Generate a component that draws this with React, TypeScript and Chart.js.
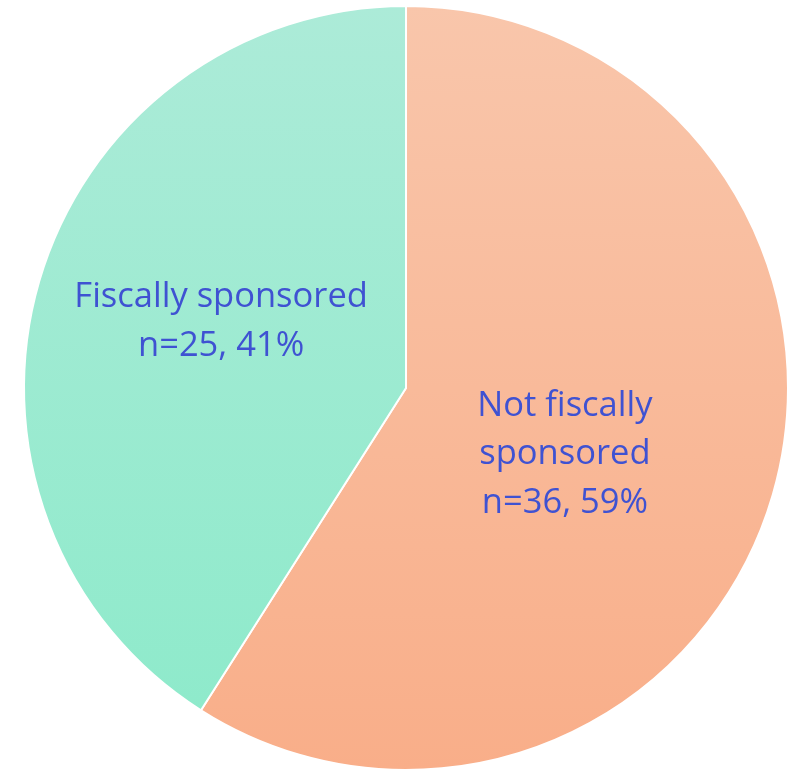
import React, { useEffect, useRef } from "react";
import { Chart, registerables } from "chart.js";

Chart.register(...registerables);

const categories = ["Not fiscally sponsored", "Fiscally sponsored"];
const counts = [36, 25];
const percents = [59, 41];
const labelLines = [
  ["Not fiscally", "sponsored", "n=36, 59%"],
  ["Fiscally sponsored", "n=25, 41%"],
];
const gradientTop = ["#F9C6AB", "#ACEBD8"];
const gradientBottom = ["#F9AE89", "#8CEACA"];

const labelPlugin = {
  id: "sliceLabels",
  afterDatasetsDraw(chart: any) {
    const meta = chart.getDatasetMeta(0);
    const ctx = chart.ctx;
    // label anchors as fractions of the radius, relative to the pie centre
    const anchors = [
      [0.416, 0.199],
      [-0.484, -0.148],
    ];
    ctx.save();
    ctx.fillStyle = "#3F52D2";
    ctx.font = "34.5px 'Open Sans'";
    ctx.textAlign = "center";
    ctx.textBaseline = "alphabetic";
    const lh = 48.5;
    meta.data.forEach((arc: any, i: number) => {
      const { x, y, outerRadius } = arc.getProps(["x", "y", "outerRadius"], true);
      const cx = x + anchors[i][0] * outerRadius;
      const cy = y + anchors[i][1] * outerRadius;
      const lines = labelLines[i];
      const start = cy - ((lines.length - 1) * lh) / 2;
      lines.forEach((t, k) => ctx.fillText(t, cx, start + k * lh));
    });
    ctx.restore();
  },
};

export default function App() {
  const ref = useRef<HTMLCanvasElement>(null);
  useEffect(() => {
    if (!ref.current) return;
    const chart = new Chart(ref.current, {
      type: "pie",
      data: {
        labels: categories,
        datasets: [
          {
            data: counts,
            radius: 382,
            borderColor: "#FFFFFF",
            borderWidth: 2,
            backgroundColor: (c: any) => {
              const ch = c.chart;
              const area = ch.chartArea;
              if (!area) return gradientTop[c.dataIndex];
              const g = ch.ctx.createLinearGradient(0, 6, 0, 770);
              g.addColorStop(0, gradientTop[c.dataIndex]);
              g.addColorStop(1, gradientBottom[c.dataIndex]);
              return g;
            },
          } as any,
        ],
      },
      options: {
        responsive: false,
        animation: false,
        layout: { padding: 0 },
        plugins: {
          legend: { display: false },
          tooltip: { enabled: false },
        },
      },
      plugins: [labelPlugin],
    });
    return () => chart.destroy();
  }, []);
  return (
    <div
      style={{
        position: "fixed",
        left: 0,
        top: 0,
        width: 803,
        height: 769,
        overflow: "hidden",
        background: "#FFFFFF",
      }}
    >
      <canvas ref={ref} width={812} height={776} style={{ display: "block" }} />
    </div>
  );
}
